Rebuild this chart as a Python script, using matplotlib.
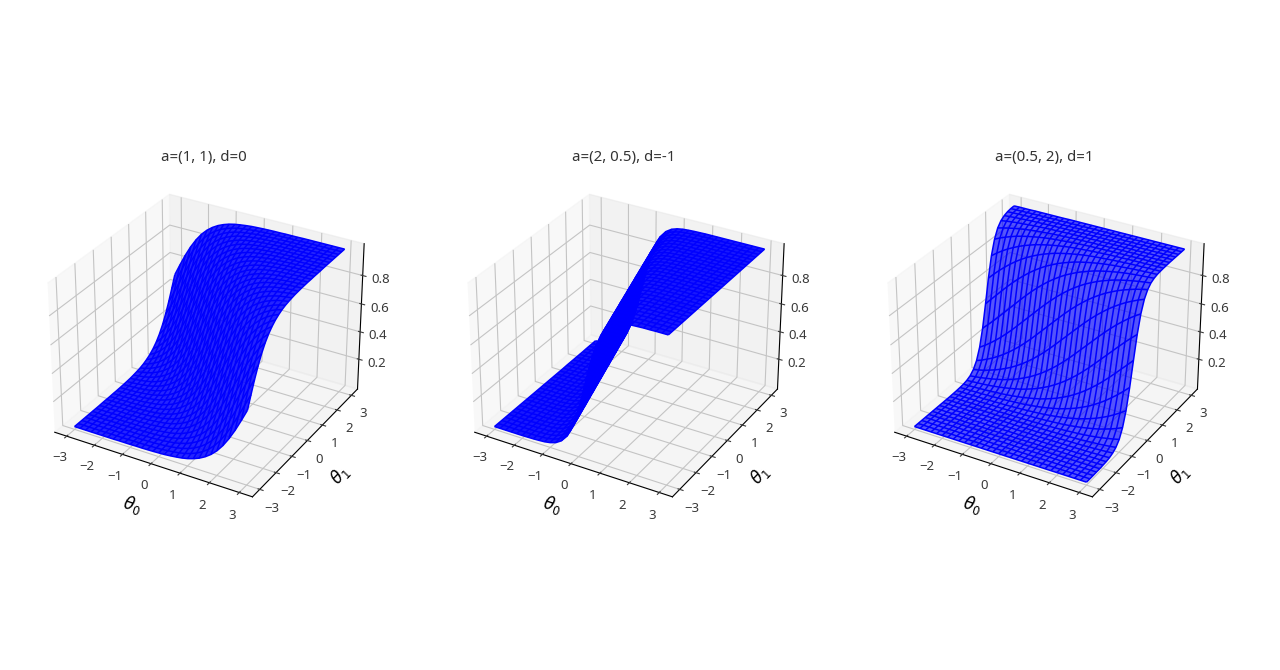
import matplotlib
matplotlib.use("Agg")
import matplotlib.pyplot as plt
import numpy as np

plt.rcParams['font.family'] = ['Noto Sans', 'DejaVu Sans']
plt.rcParams['mathtext.fontset'] = 'dejavusans'

# grid, z in thousandths
theta = [-3.0, -2.8, -2.6, -2.4, -2.2, -2.0, -1.8, -1.6, -1.4, -1.2, -1.0, -0.8, -0.6, -0.4, -0.2, 0.0,
         0.2, 0.4, 0.6, 0.8, 1.0, 1.2, 1.4, 1.6, 1.8, 2.0, 2.2, 2.4, 2.6, 2.8, 3.0]
titles = ['a=(1, 1), d=0', 'a=(2, 0.5), d=-1', 'a=(0.5, 2), d=1']

z_1 = [
    [0,0,0,0,0,0,0,0,1,1,1,2,2,3,4,6,8,12,17,23,32,45,62,85,115,154,204,265,336,416,500],
    [0,0,0,0,0,0,0,1,1,1,2,2,3,4,6,8,12,17,23,32,45,62,85,115,154,204,265,336,416,500,584],
    [0,0,0,0,0,0,1,1,1,2,2,3,4,6,8,12,17,23,32,45,62,85,115,154,204,265,336,416,500,584,664],
    [0,0,0,0,0,1,1,1,2,2,3,4,6,8,12,17,23,32,45,62,85,115,154,204,265,336,416,500,584,664,735],
    [0,0,0,0,1,1,1,2,2,3,4,6,8,12,17,23,32,45,62,85,115,154,204,265,336,416,500,584,664,735,796],
    [0,0,0,1,1,1,2,2,3,4,6,8,12,17,23,32,45,62,85,115,154,204,265,336,416,500,584,664,735,796,846],
    [0,0,1,1,1,2,2,3,4,6,8,12,17,23,32,45,62,85,115,154,204,265,336,416,500,584,664,735,796,846,885],
    [0,1,1,1,2,2,3,4,6,8,12,17,23,32,45,62,85,115,154,204,265,336,416,500,584,664,735,796,846,885,915],
    [1,1,1,2,2,3,4,6,8,12,17,23,32,45,62,85,115,154,204,265,336,416,500,584,664,735,796,846,885,915,938],
    [1,1,2,2,3,4,6,8,12,17,23,32,45,62,85,115,154,204,265,336,416,500,584,664,735,796,846,885,915,938,955],
    [1,2,2,3,4,6,8,12,17,23,32,45,62,85,115,154,204,265,336,416,500,584,664,735,796,846,885,915,938,955,968],
    [2,2,3,4,6,8,12,17,23,32,45,62,85,115,154,204,265,336,416,500,584,664,735,796,846,885,915,938,955,968,977],
    [2,3,4,6,8,12,17,23,32,45,62,85,115,154,204,265,336,416,500,584,664,735,796,846,885,915,938,955,968,977,983],
    [3,4,6,8,12,17,23,32,45,62,85,115,154,204,265,336,416,500,584,664,735,796,846,885,915,938,955,968,977,983,988],
    [4,6,8,12,17,23,32,45,62,85,115,154,204,265,336,416,500,584,664,735,796,846,885,915,938,955,968,977,983,988,992],
    [6,8,12,17,23,32,45,62,85,115,154,204,265,336,416,500,584,664,735,796,846,885,915,938,955,968,977,983,988,992,994],
    [8,12,17,23,32,45,62,85,115,154,204,265,336,416,500,584,664,735,796,846,885,915,938,955,968,977,983,988,992,994,996],
    [12,17,23,32,45,62,85,115,154,204,265,336,416,500,584,664,735,796,846,885,915,938,955,968,977,983,988,992,994,996,997],
    [17,23,32,45,62,85,115,154,204,265,336,416,500,584,664,735,796,846,885,915,938,955,968,977,983,988,992,994,996,997,998],
    [23,32,45,62,85,115,154,204,265,336,416,500,584,664,735,796,846,885,915,938,955,968,977,983,988,992,994,996,997,998,998],
    [32,45,62,85,115,154,204,265,336,416,500,584,664,735,796,846,885,915,938,955,968,977,983,988,992,994,996,997,998,998,999],
    [45,62,85,115,154,204,265,336,416,500,584,664,735,796,846,885,915,938,955,968,977,983,988,992,994,996,997,998,998,999,999],
    [62,85,115,154,204,265,336,416,500,584,664,735,796,846,885,915,938,955,968,977,983,988,992,994,996,997,998,998,999,999,999],
    [85,115,154,204,265,336,416,500,584,664,735,796,846,885,915,938,955,968,977,983,988,992,994,996,997,998,998,999,999,999,1000],
    [115,154,204,265,336,416,500,584,664,735,796,846,885,915,938,955,968,977,983,988,992,994,996,997,998,998,999,999,999,1000,1000],
    [154,204,265,336,416,500,584,664,735,796,846,885,915,938,955,968,977,983,988,992,994,996,997,998,998,999,999,999,1000,1000,1000],
    [204,265,336,416,500,584,664,735,796,846,885,915,938,955,968,977,983,988,992,994,996,997,998,998,999,999,999,1000,1000,1000,1000],
    [265,336,416,500,584,664,735,796,846,885,915,938,955,968,977,983,988,992,994,996,997,998,998,999,999,999,1000,1000,1000,1000,1000],
    [336,416,500,584,664,735,796,846,885,915,938,955,968,977,983,988,992,994,996,997,998,998,999,999,999,1000,1000,1000,1000,1000,1000],
    [416,500,584,664,735,796,846,885,915,938,955,968,977,983,988,992,994,996,997,998,998,999,999,999,1000,1000,1000,1000,1000,1000,1000],
    [500,584,664,735,796,846,885,915,938,955,968,977,983,988,992,994,996,997,998,998,999,999,999,1000,1000,1000,1000,1000,1000,1000,1000],
]

z_2 = [
    [0,0,0,0,0,0,1,2,4,7,14,27,53,99,178,299,458,625,767,866,928,962,980,990,995,997,999,999,1000,1000,1000],
    [0,0,0,0,0,1,1,2,4,8,17,32,62,115,204,336,500,664,796,885,938,968,983,992,996,998,999,999,1000,1000,1000],
    [0,0,0,0,0,1,1,3,5,10,20,38,72,134,233,375,542,701,822,901,947,973,986,993,996,998,999,1000,1000,1000,1000],
    [0,0,0,0,0,1,2,3,6,12,23,45,85,154,265,416,584,735,846,915,955,977,988,994,997,998,999,1000,1000,1000,1000],
    [0,0,0,0,0,1,2,4,7,14,27,53,99,178,299,458,625,767,866,928,962,980,990,995,997,999,999,1000,1000,1000,1000],
    [0,0,0,0,1,1,2,4,8,17,32,62,115,204,336,500,664,796,885,938,968,983,992,996,998,999,999,1000,1000,1000,1000],
    [0,0,0,0,1,1,3,5,10,20,38,72,134,233,375,542,701,822,901,947,973,986,993,996,998,999,1000,1000,1000,1000,1000],
    [0,0,0,0,1,2,3,6,12,23,45,85,154,265,416,584,735,846,915,955,977,988,994,997,998,999,1000,1000,1000,1000,1000],
    [0,0,0,0,1,2,4,7,14,27,53,99,178,299,458,625,767,866,928,962,980,990,995,997,999,999,1000,1000,1000,1000,1000],
    [0,0,0,1,1,2,4,8,17,32,62,115,204,336,500,664,796,885,938,968,983,992,996,998,999,999,1000,1000,1000,1000,1000],
    [0,0,0,1,1,3,5,10,20,38,72,134,233,375,542,701,822,901,947,973,986,993,996,998,999,1000,1000,1000,1000,1000,1000],
    [0,0,0,1,2,3,6,12,23,45,85,154,265,416,584,735,846,915,955,977,988,994,997,998,999,1000,1000,1000,1000,1000,1000],
    [0,0,0,1,2,4,7,14,27,53,99,178,299,458,625,767,866,928,962,980,990,995,997,999,999,1000,1000,1000,1000,1000,1000],
    [0,0,1,1,2,4,8,17,32,62,115,204,336,500,664,796,885,938,968,983,992,996,998,999,999,1000,1000,1000,1000,1000,1000],
    [0,0,1,1,3,5,10,20,38,72,134,233,375,542,701,822,901,947,973,986,993,996,998,999,1000,1000,1000,1000,1000,1000,1000],
    [0,0,1,2,3,6,12,23,45,85,154,265,416,584,735,846,915,955,977,988,994,997,998,999,1000,1000,1000,1000,1000,1000,1000],
    [0,0,1,2,4,7,14,27,53,99,178,299,458,625,767,866,928,962,980,990,995,997,999,999,1000,1000,1000,1000,1000,1000,1000],
    [0,1,1,2,4,8,17,32,62,115,204,336,500,664,796,885,938,968,983,992,996,998,999,999,1000,1000,1000,1000,1000,1000,1000],
    [0,1,1,3,5,10,20,38,72,134,233,375,542,701,822,901,947,973,986,993,996,998,999,1000,1000,1000,1000,1000,1000,1000,1000],
    [0,1,2,3,6,12,23,45,85,154,265,416,584,735,846,915,955,977,988,994,997,998,999,1000,1000,1000,1000,1000,1000,1000,1000],
    [0,1,2,4,7,14,27,53,99,178,299,458,625,767,866,928,962,980,990,995,997,999,999,1000,1000,1000,1000,1000,1000,1000,1000],
    [1,1,2,4,8,17,32,62,115,204,336,500,664,796,885,938,968,983,992,996,998,999,999,1000,1000,1000,1000,1000,1000,1000,1000],
    [1,1,3,5,10,20,38,72,134,233,375,542,701,822,901,947,973,986,993,996,998,999,1000,1000,1000,1000,1000,1000,1000,1000,1000],
    [1,2,3,6,12,23,45,85,154,265,416,584,735,846,915,955,977,988,994,997,998,999,1000,1000,1000,1000,1000,1000,1000,1000,1000],
    [1,2,4,7,14,27,53,99,178,299,458,625,767,866,928,962,980,990,995,997,999,999,1000,1000,1000,1000,1000,1000,1000,1000,1000],
    [1,2,4,8,17,32,62,115,204,336,500,664,796,885,938,968,983,992,996,998,999,999,1000,1000,1000,1000,1000,1000,1000,1000,1000],
    [1,3,5,10,20,38,72,134,233,375,542,701,822,901,947,973,986,993,996,998,999,1000,1000,1000,1000,1000,1000,1000,1000,1000,1000],
    [2,3,6,12,23,45,85,154,265,416,584,735,846,915,955,977,988,994,997,998,999,1000,1000,1000,1000,1000,1000,1000,1000,1000,1000],
    [2,4,7,14,27,53,99,178,299,458,625,767,866,928,962,980,990,995,997,999,999,1000,1000,1000,1000,1000,1000,1000,1000,1000,1000],
    [2,4,8,17,32,62,115,204,336,500,664,796,885,938,968,983,992,996,998,999,999,1000,1000,1000,1000,1000,1000,1000,1000,1000,1000],
    [3,5,10,20,38,72,134,233,375,542,701,822,901,947,973,986,993,996,998,999,1000,1000,1000,1000,1000,1000,1000,1000,1000,1000,1000],
]

z_3 = [
    [0]*31,
    [0]*31,
    [0]*31,
    [0]*29 + [1,1],
    [0]*25 + [1,1,1,1,1,1],
    [0]*21 + [1,1,1,1,1,1,2,2,2,3],
    [0]*17 + [1,1,1,1,1,1,2,2,2,3,3,4,4,5],
    [0]*13 + [1,1,1,1,1,1,2,2,2,3,3,4,4,5,6,7,8,10],
    [0]*9 + [1,1,1,1,1,1,2,2,2,3,3,4,4,5,6,7,8,10,12,14,17,20],
    [0]*5 + [1,1,1,1,1,1,2,2,2,3,3,4,4,5,6,7,8,10,12,14,17,20,23,27,32,38],
    [0,1,1,1,1,1,1,2,2,2,3,3,4,4,5,6,7,8,10,12,14,17,20,23,27,32,38,45,53,62,72],
    [1,1,1,2,2,2,3,3,4,4,5,6,7,8,10,12,14,17,20,23,27,32,38,45,53,62,72,85,99,115,134],
    [2,2,3,3,4,4,5,6,7,8,10,12,14,17,20,23,27,32,38,45,53,62,72,85,99,115,134,154,178,204,233],
    [4,4,5,6,7,8,10,12,14,17,20,23,27,32,38,45,53,62,72,85,99,115,134,154,178,204,233,265,299,336,375],
    [7,8,10,12,14,17,20,23,27,32,38,45,53,62,72,85,99,115,134,154,178,204,233,265,299,336,375,416,458,500,542],
    [14,17,20,23,27,32,38,45,53,62,72,85,99,115,134,154,178,204,233,265,299,336,375,416,458,500,542,584,625,664,701],
    [27,32,38,45,53,62,72,85,99,115,134,154,178,204,233,265,299,336,375,416,458,500,542,584,625,664,701,735,767,796,822],
    [53,62,72,85,99,115,134,154,178,204,233,265,299,336,375,416,458,500,542,584,625,664,701,735,767,796,822,846,866,885,901],
    [99,115,134,154,178,204,233,265,299,336,375,416,458,500,542,584,625,664,701,735,767,796,822,846,866,885,901,915,928,938,947],
    [178,204,233,265,299,336,375,416,458,500,542,584,625,664,701,735,767,796,822,846,866,885,901,915,928,938,947,955,962,968,973],
    [299,336,375,416,458,500,542,584,625,664,701,735,767,796,822,846,866,885,901,915,928,938,947,955,962,968,973,977,980,983,986],
    [458,500,542,584,625,664,701,735,767,796,822,846,866,885,901,915,928,938,947,955,962,968,973,977,980,983,986,988,990,992,993],
    [625,664,701,735,767,796,822,846,866,885,901,915,928,938,947,955,962,968,973,977,980,983,986,988,990,992,993,994,995,996,996],
    [767,796,822,846,866,885,901,915,928,938,947,955,962,968,973,977,980,983,986,988,990,992,993,994,995,996,996,997,997,998,998],
    [866,885,901,915,928,938,947,955,962,968,973,977,980,983,986,988,990,992,993,994,995,996,996,997,997,998,998,998,999,999,999],
    [928,938,947,955,962,968,973,977,980,983,986,988,990,992,993,994,995,996,996,997,997,998,998,998,999,999,999,999,999,999,1000],
    [962,968,973,977,980,983,986,988,990,992,993,994,995,996,996,997,997,998,998,998,999,999,999,999,999,999,1000,1000,1000,1000,1000],
    [980,983,986,988,990,992,993,994,995,996,996,997,997,998,998,998] + [999]*6 + [1000]*9,
    [990,992,993,994,995,996,996,997,997,998,998,998] + [999]*6 + [1000]*13,
    [995,996,996,997,997,998,998,998] + [999]*6 + [1000]*17,
    [997,998,998,998] + [999]*6 + [1000]*21,
]

surfaces = [z_1, z_2, z_3]
fills = [0.85, 0.9, 0.65]
lefts = [0.0220, 0.3501, 0.6782]

fig = plt.figure(figsize=(12.8, 6.7), dpi=100)
X, Y = np.meshgrid(theta, theta)

for left, title, surf, fill in zip(lefts, titles, surfaces, fills):
    ax = fig.add_axes([left, 0.178, 0.275, 0.62], projection='3d')
    Z = np.array(surf) / 1000
    # the 31 line table is coarser than the original mesh, a flat fill makes up the density
    ax.plot_surface(X, Y, Z, color='blue', alpha=fill, shade=False, linewidth=0)
    ax.plot_wireframe(X, Y, Z, color='blue', linewidth=1.1)
    ax.set_xlabel(r'$\theta_0$', fontsize=12, labelpad=0)
    ax.set_ylabel(r'$\theta_1$', fontsize=12, labelpad=1)
    ax.set_zticks([0.2, 0.4, 0.6, 0.8])
    ax.tick_params(labelsize=9.5, pad=0, colors='#3a3a3a')
    for axis in (ax.xaxis, ax.yaxis, ax.zaxis):
        axis._axinfo['grid']['color'] = '#c4c4c4'
    ax.set_title(title, fontsize=10.8, color='#333333', pad=4.5)

plt.savefig('out.png', dpi=100)
